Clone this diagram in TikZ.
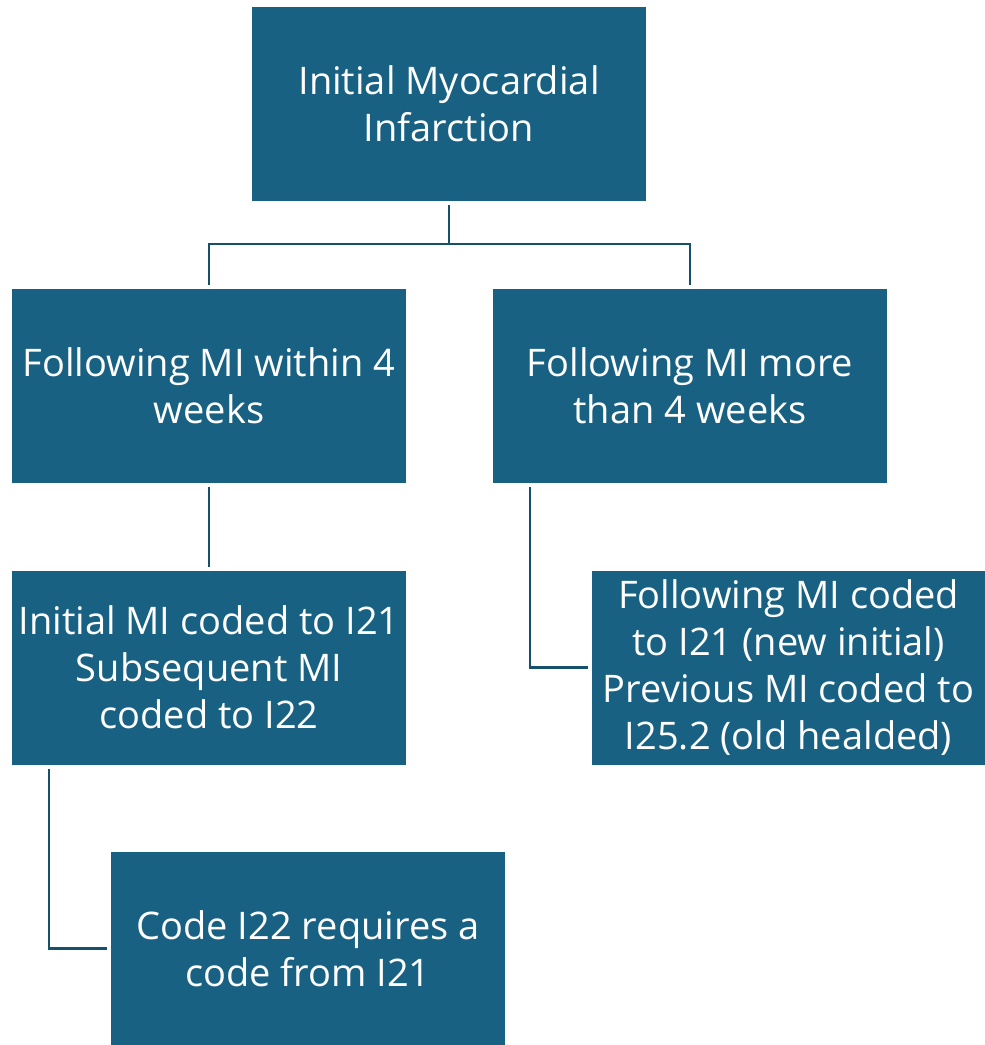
\documentclass[tikz,border=0pt]{standalone}
\usepackage{fontspec}
\setmainfont{Open Sans}
\usepackage{tikz}
\definecolor{boxblue}{RGB}{24,97,130}
\definecolor{linkblue}{RGB}{21,80,108}
\tikzset{
  box/.style={rectangle, fill=boxblue, text=white, minimum width=394pt,
    minimum height=194pt, inner sep=0pt, outer sep=4pt, align=center,
    font=\fontsize{38}{47}\selectfont},
  link/.style={draw=linkblue, line width=2.6pt},
}
\begin{document}
\begin{tikzpicture}[x=1pt, y=-1pt]
  \useasboundingbox (0,0) rectangle (985,1045);
  \node[box] (initial) at (449,104) {Initial Myocardial\\Infarction};
  \node[box] (within) at (209,386) {Following MI within 4\\weeks};
  \node[box] (beyond) at (690,386) {Following MI more\\than 4 weeks};
  \node[box] (codedA) at (209,667.5) {Initial MI coded to I21\\Subsequent MI\\coded to I22};
  \node[box] (codedB) at (788.5,667.5) {Following MI coded\\to I21 (new initial)\\Previous MI coded to\\I25.2 (old healded)};
  \node[box] (requires) at (308,948.5) {Code I22 requires a\\code from I21};
  \draw[link] (initial.south) -- ++(0,39) -| (within.north);
  \draw[link] (initial.south) -- ++(0,39) -| (beyond.north);
  \draw[link] (within.south) -- (codedA.north);
  \draw[link] ([xshift=41pt]beyond.south west) |- (codedB.west);
  \draw[link] ([xshift=41pt]codedA.south west) |- (requires.west);
\end{tikzpicture}
\end{document}
